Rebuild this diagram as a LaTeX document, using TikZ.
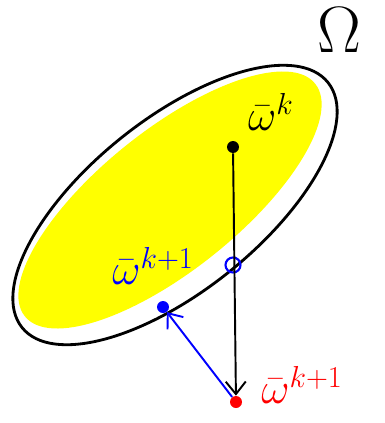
\documentclass[tikz,border=0pt]{standalone}
\usepackage{tikz}
\usetikzlibrary{arrows.meta,positioning}
\definecolor{hiyellow}{RGB}{255,255,0}

\begin{document}
\begin{tikzpicture}[x=0.02cm,y=-0.02cm,>={Straight Barb[length=2.5mm,width=4mm]},
    dot/.style={circle,fill,inner sep=0pt,minimum size=0.24cm},
    ring/.style={circle,draw=blue,line width=1.2pt,inner sep=0pt,minimum size=0.3cm},
    lbl/.style={inner sep=1pt,font=\fontsize{24}{26}\selectfont}]
    \useasboundingbox (0,0) rectangle (385,423);

    % Draw the set and its inner part
    \fill[hiyellow] (170,200) ellipse [x radius=186, y radius=70, rotate=38.7];
    \draw[line width=1.6pt] (175,205) ellipse [x radius=196, y radius=86, rotate=38.7];
    \node[font=\Huge,scale=1.5] (om) at (339,30) {$\Omega$};

    % Mark points
    \node[dot] (wk) at (233,147) {};
    \node[ring] (wp) at (233,265) {};
    \node[dot,blue] (wb) at (163,307) {};
    \node[dot,red] (wr) at (236,402) {};

    % Labels
    \node[lbl] (lk) at (271,112) {$\bar{\omega}^{k}$};
    \node[lbl,blue] (lb) at (153,266) {$\bar{\omega}^{k+1}$};
    \node[lbl,red] (lr) at (302,385) {$\bar{\omega}^{k+1}$};

    % Draw steps
    \draw[->,line width=1.1pt] (wk) -- (wr);
    \draw[->,line width=1.1pt,blue] (wr) -- (wb);
\end{tikzpicture}
\end{document}
